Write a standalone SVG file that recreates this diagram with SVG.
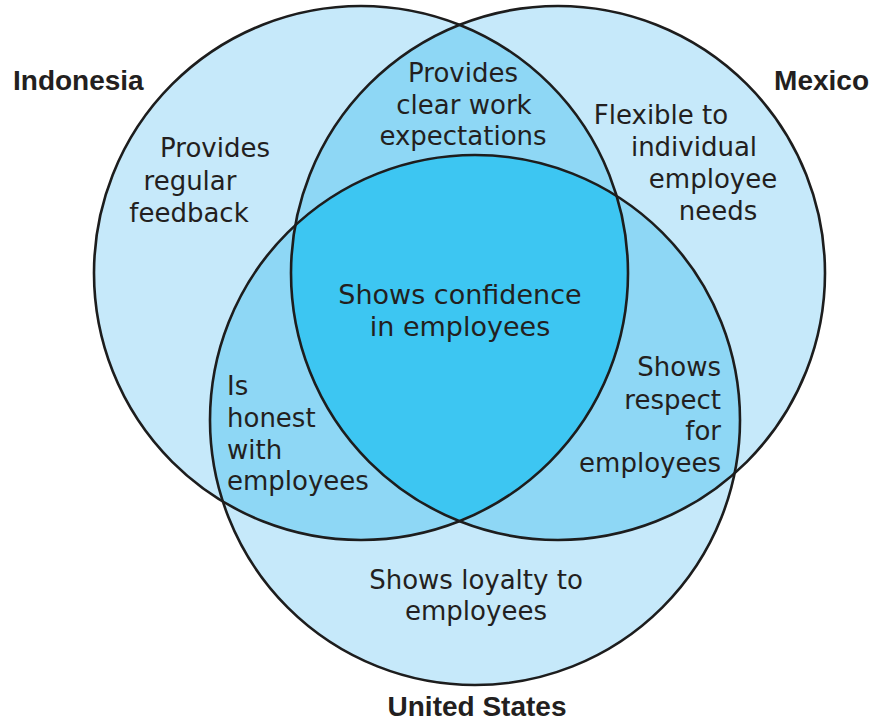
<svg xmlns="http://www.w3.org/2000/svg" width="872" height="723" viewBox="0 0 872 723">
<style>
.c1{fill:#C6E9FA}
.c2{fill:#8ED7F5}
.c3{fill:#3DC6F2}
.ring{fill:none;stroke:#1d1d1d;stroke-width:2.6}
.lbl{font-family:"Liberation Sans",Arial,sans-serif;font-weight:bold;font-size:28px;fill:#231f20}
.t{font-family:"DejaVu Sans","Liberation Sans",sans-serif;font-size:26px;fill:#231f20}
.big{font-size:27px}
.m{text-anchor:middle}
.e{text-anchor:end}
</style>
<defs>
<clipPath id="clipI"><circle cx="361" cy="273" r="267"/></clipPath>
<clipPath id="clipM"><circle cx="558" cy="273" r="267"/></clipPath>
</defs>
<rect width="872" height="723" fill="#ffffff"/>
<g id="indonesia-set">
<circle class="c1" cx="361" cy="273" r="267"/>
</g>
<g id="mexico-set">
<circle class="c1" cx="558" cy="273" r="267"/>
</g>
<g id="us-set">
<circle class="c1" cx="475" cy="420" r="265"/>
</g>
<g id="overlaps">
<circle class="c2" cx="558" cy="273" r="267" clip-path="url(#clipI)"/>
<circle class="c2" cx="475" cy="420" r="265" clip-path="url(#clipI)"/>
<circle class="c2" cx="475" cy="420" r="265" clip-path="url(#clipM)"/>
<g clip-path="url(#clipM)"><circle class="c3" cx="475" cy="420" r="265" clip-path="url(#clipI)"/></g>
</g>
<g id="outlines">
<circle class="ring" cx="361" cy="273" r="267"/>
<circle class="ring" cx="558" cy="273" r="267"/>
<circle class="ring" cx="475" cy="420" r="265"/>
</g>
<g id="labels">
<text class="lbl" x="13" y="90">Indonesia</text>
<text class="lbl e" x="869" y="90">Mexico</text>
<text class="lbl m" x="477" y="716">United States</text>
</g>
<g id="region-indonesia">
<text class="t m" x="215" y="157">Provides</text>
<text class="t m" x="190" y="190">regular</text>
<text class="t m" x="189" y="222">feedback</text>
</g>
<g id="region-indonesia-mexico">
<text class="t m" x="463" y="82">Provides</text>
<text class="t m" x="464" y="114">clear work</text>
<text class="t m" x="463" y="145">expectations</text>
</g>
<g id="region-mexico">
<text class="t m" x="661" y="124">Flexible to</text>
<text class="t m" x="694" y="156">individual</text>
<text class="t m" x="713" y="188">employee</text>
<text class="t m" x="718" y="220">needs</text>
</g>
<g id="region-all">
<text class="t big m" x="460" y="304">Shows confidence</text>
<text class="t big m" x="460" y="336">in employees</text>
</g>
<g id="region-indonesia-us">
<text class="t" x="227" y="395">Is</text>
<text class="t" x="227" y="427">honest</text>
<text class="t" x="227" y="459">with</text>
<text class="t" x="227" y="490">employees</text>
</g>
<g id="region-mexico-us">
<text class="t e" x="721" y="376">Shows</text>
<text class="t e" x="721" y="409">respect</text>
<text class="t e" x="721" y="440">for</text>
<text class="t e" x="721" y="472">employees</text>
</g>
<g id="region-us">
<text class="t m" x="476" y="589">Shows loyalty to</text>
<text class="t m" x="476" y="620">employees</text>
</g>
</svg>
